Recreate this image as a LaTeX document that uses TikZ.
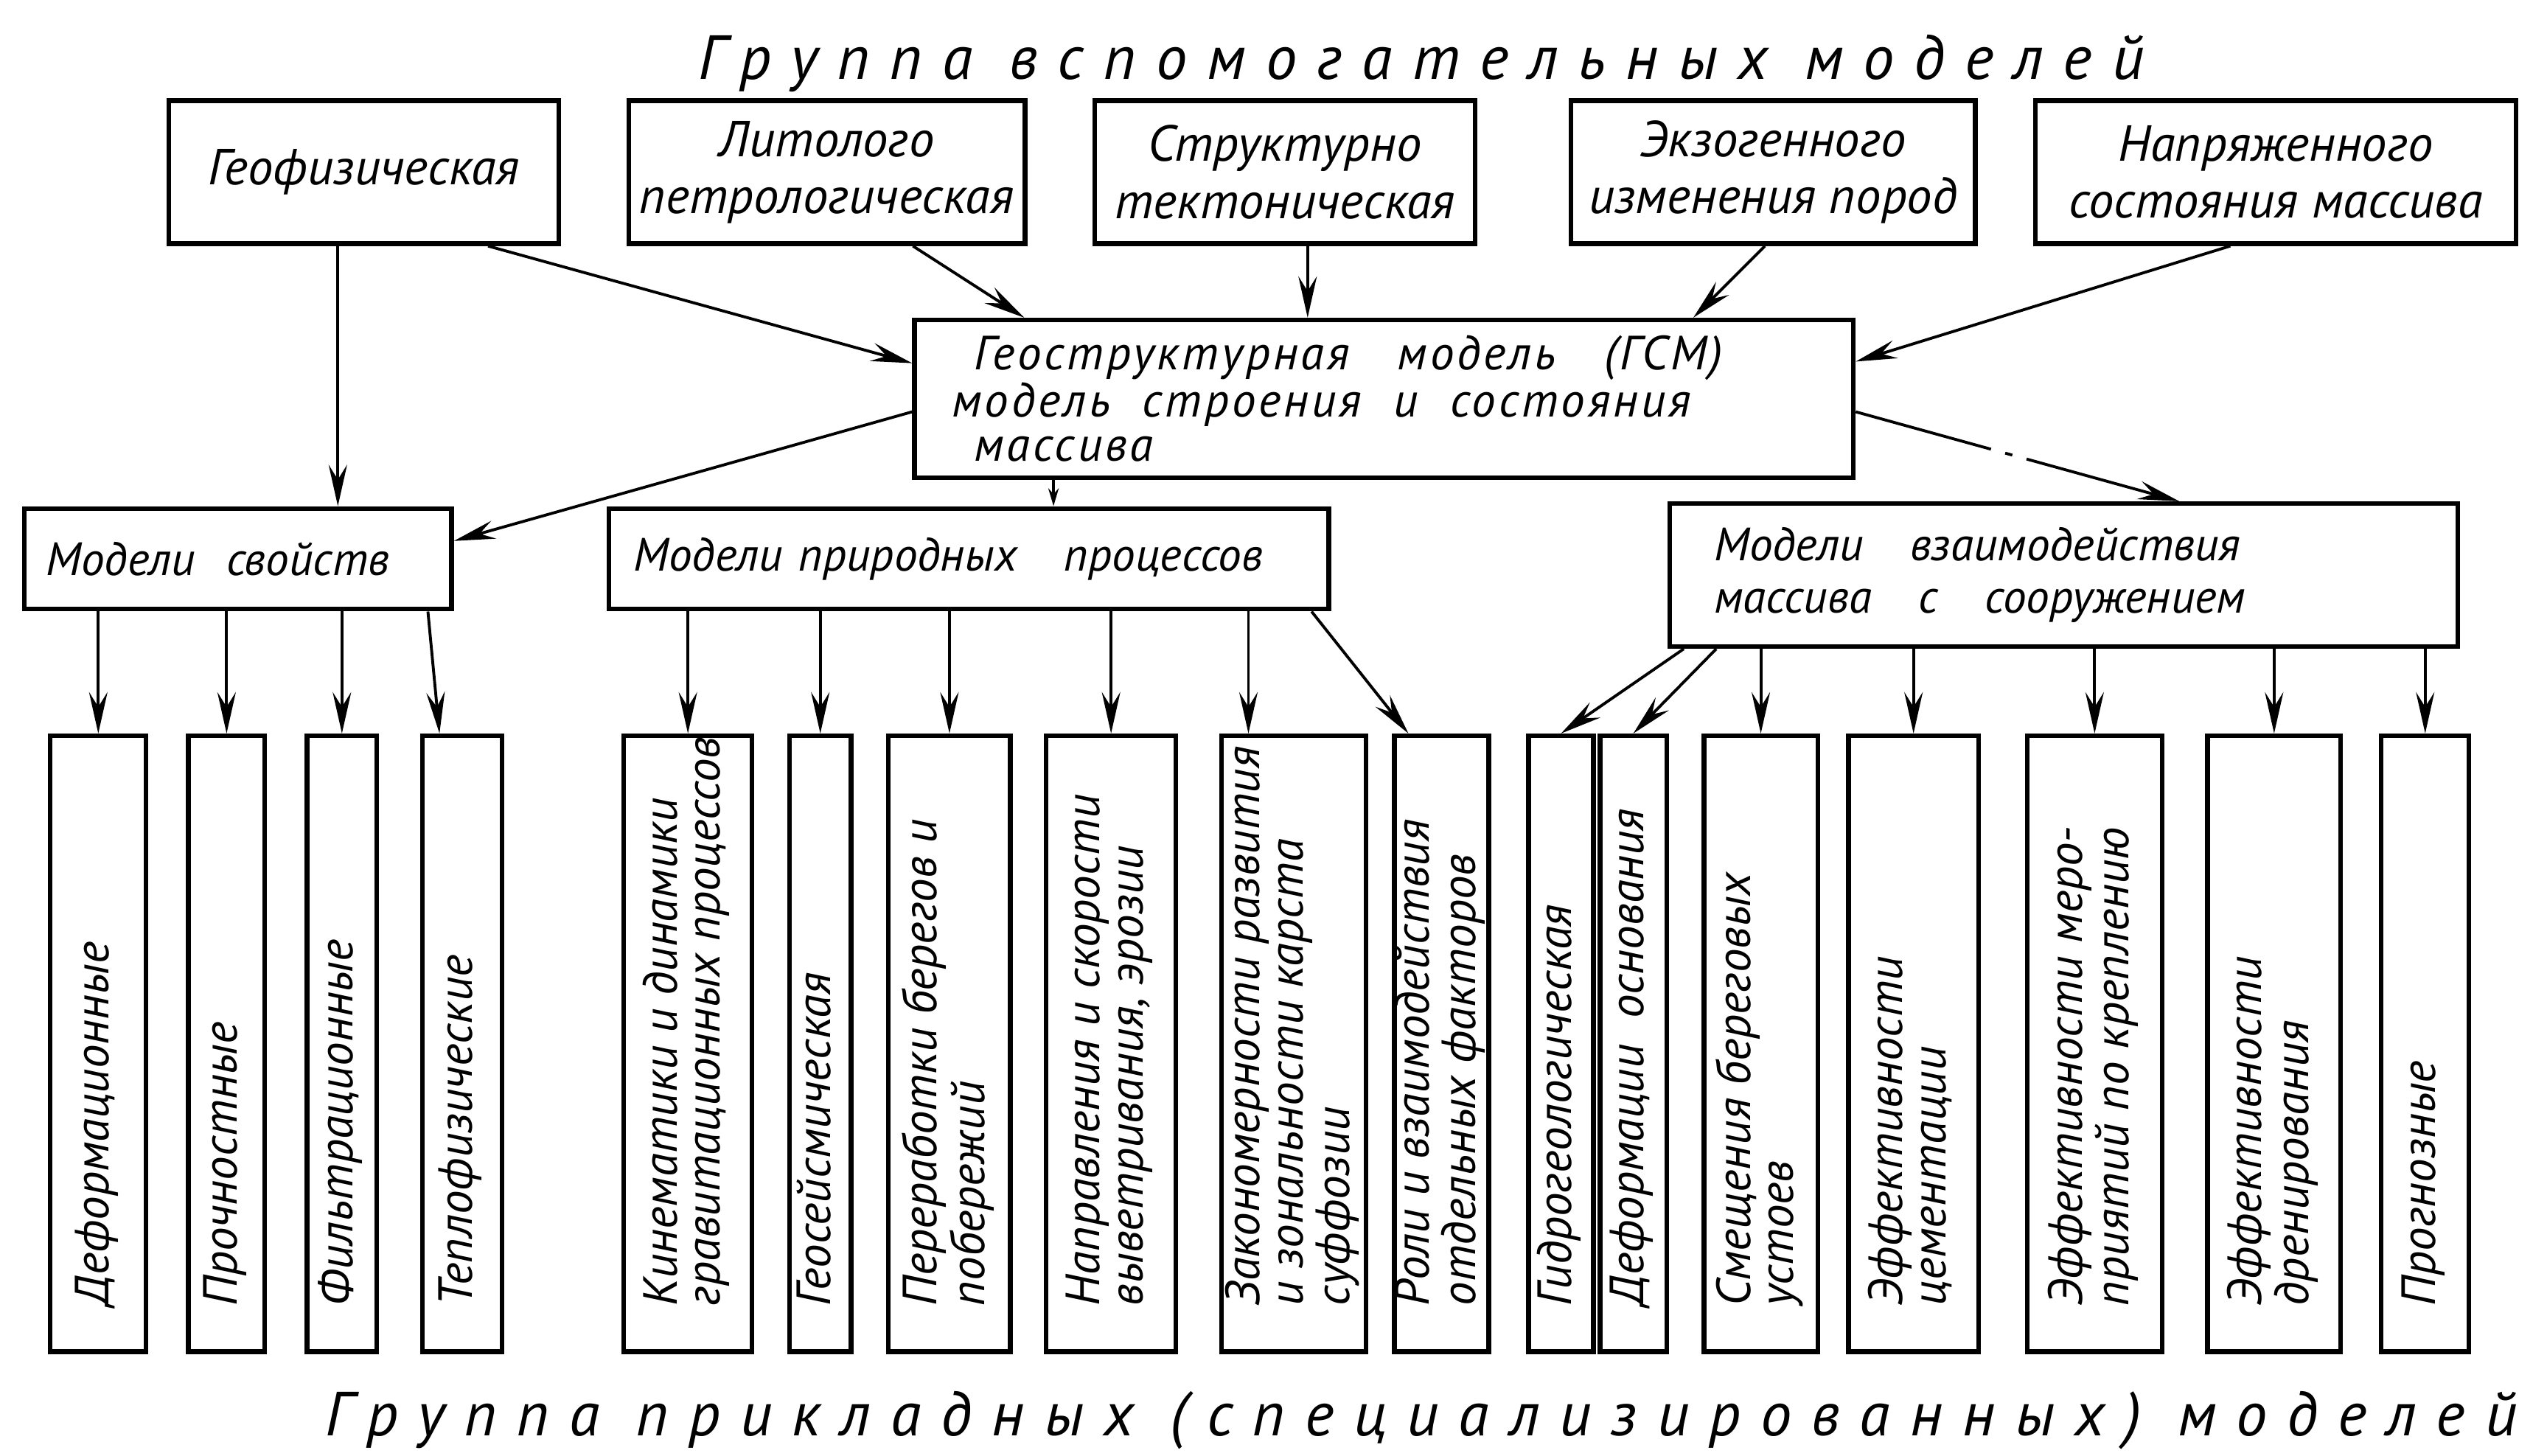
\documentclass[tikz,border=0pt]{standalone}
\usepackage{fontspec}
\setmainfont{PT Sans}
\usepackage{graphicx}
\usepackage{tikz}
\usetikzlibrary{arrows.meta,calc}
\tikzset{
    topbox/.style={
           rectangle,
           draw=black, line width=1.8pt,
           minimum height=19.36mm,
           inner sep=2pt,
           align=center,
           font=\itshape\fontsize{19.5}{22}\selectfont
           },
    midbox/.style={
           rectangle,
           draw=black, line width=1.8pt,
           inner sep=0pt,
           align=left,
           font=\itshape\fontsize{18}{17}\selectfont
           },
    leafbox/.style={
           rectangle,
           draw=black, line width=1.8pt,
           minimum height=83.4mm,
           inner sep=0pt,
           font=\itshape\fontsize{18.5}{17.5}\selectfont
           },
    grouptitle/.style={
           anchor=base,
           font=\itshape\fontsize{24}{28}\selectfont\addfontfeature{LetterSpace=32}
           },
    chain/.style={dash pattern=on 19mm off 2mm on 1mm off 2mm on 40mm},
}
% rotated label of a leaf box, read from bottom to top
\newcommand{\vlabel}[1]{\rotatebox{90}{\makebox[71mm][l]{\renewcommand{\arraystretch}{0.95}\begin{tabular}{@{}l@{}}#1\end{tabular}}}}

\begin{document}
\begin{tikzpicture}[x=0.22mm,y=-0.22mm,>={Stealth[length=5.6mm,width=2.5mm,inset=2mm]},line width=1.1pt]
    \useasboundingbox (0,0) rectangle (1568,896);

    % group titles
    \node[grouptitle] (AUXTITLE) at (875,49) {Группа вспомогательных моделей};
    \node[grouptitle] (APPTITLE) at (875,884) {Группа прикладных (специализированных) моделей};

    % auxiliary models
    \node[topbox, minimum width=52.8mm] (GEO) at (224,106) {Геофизическая};
    \node[topbox, minimum width=53.68mm] (LITO) at (509,106) {Литолого\\петрологическая};
    \node[topbox, minimum width=51.48mm] (STRUCT) at (791,106) {Структурно\\тектоническая};
    \node[topbox, minimum width=54.78mm] (EXO) at (1091.5,106) {Экзогенного\\изменения пород};
    \node[topbox, minimum width=65.12mm] (STRESS) at (1401,106) {Напряженного\\состояния массива};

    % geostructural model
    \node[midbox,
          minimum width=127.16mm, minimum height=21.34mm,
          text width=117mm,
          font=\itshape\fontsize{18.5}{17}\selectfont\addfontfeature{LetterSpace=6}] (GSM) at (852,245.5)
         {\hspace{3mm}Геоструктурная\quad модель\quad (ГСМ)\\модель\ \ строения\ \ и\ \ состояния\\\hspace{3mm}массива};

    \node[midbox,
          minimum width=57.86mm, minimum height=13.64mm,
          text width=52mm] (PROPS) at (146.5,344)
         {Модели\ \ свойств};
    \node[midbox,
          minimum width=97.46mm, minimum height=13.64mm,
          text width=90.8mm] (NATPROC) at (596.5,344)
         {Модели\ природных\quad процессов};
    \node[midbox,
          minimum width=106.7mm, minimum height=19.36mm,
          text width=94.7mm,
          font=\itshape\fontsize{18}{20}\selectfont] (INTER) at (1270.5,354)
         {Модели\quad взаимодействия\\массива\quad с\quad сооружением};

    % applied models
    \node[leafbox, minimum width=12.98mm] (DEFORM) at (60.5,642.5) {\vlabel{Деформационные}};
    \node[leafbox, minimum width=10.34mm] (STRENGTH) at (139.5,642.5) {\vlabel{Прочностные}};
    \node[leafbox, minimum width=9.46mm] (FILTR) at (210.5,642.5) {\vlabel{Фильтрационные}};
    \node[leafbox, minimum width=10.78mm] (THERMO) at (284.5,642.5) {\vlabel{Теплофизические}};
    \node[leafbox, minimum width=17.38mm] (KINEM) at (423.5,642.5) {\vlabel{Кинематики и динамики\\гравитационных процессов}};
    \node[leafbox, minimum width=8.36mm] (SEISM) at (505,642.5) {\vlabel{Геосейсмическая}};
    \node[leafbox, minimum width=16.5mm] (SHORE) at (584.5,642.5) {\vlabel{Переработки берегов и\\побережий}};
    \node[leafbox, minimum width=17.6mm] (WEATHER) at (684,642.5) {\vlabel{Направления и скорости\\выветривания, эрозии}};
    \node[leafbox, minimum width=19.58mm] (KARST) at (796.5,642.5) {\vlabel{Закономерности развития\\и зональности карста\\суффозии}};
    \node[leafbox, minimum width=12.1mm] (FACTORS) at (887.5,642.5) {\vlabel{Роли и взаимодействия\\отдельных факторов}};
    \node[leafbox, minimum width=8.8mm] (HYDRO) at (961,642.5) {\vlabel{Гидрогеологическая}};
    \node[leafbox, minimum width=9.02mm] (BASE) at (1005.5,642.5) {\vlabel{Деформации\ \ основания}};
    \node[leafbox, minimum width=15.4mm] (ABUT) at (1084,642.5) {\vlabel{Смещения береговых\\устоев}};
    \node[leafbox, minimum width=17.6mm] (CEMENT) at (1178,642.5) {\vlabel{Эффективности\\цементации}};
    \node[leafbox, minimum width=18.26mm] (SUPPORT) at (1289.5,642.5) {\vlabel{Эффективности меро-\\приятий по креплению}};
    \node[leafbox, minimum width=18.04mm] (DRAIN) at (1400,642.5) {\vlabel{Эффективности\\дренирования}};
    \node[leafbox, minimum width=11.88mm] (FORECAST) at (1493,642.5) {\vlabel{Прогнозные}};

    % auxiliary models -> GSM
    \draw[->] ($(GEO.south east)+(-45,0)$) -- ($(GSM.north west)+(0,28)$);
    \draw[->] ($(LITO.south)+(53,0)$) -- ($(GSM.north west)+(69,0)$);
    \draw[->] ($(STRUCT.south)+(14,0)$) coordinate (s1) -- (s1 |- GSM.north);
    \draw[->] ($(EXO.south)+(-5,0)$) -- ($(GSM.north east)+(-100,0)$);
    \draw[->] ($(STRESS.south)+(-28,0)$) -- ($(GSM.north east)+(0,27)$);

    % GSM and geophysics -> model groups
    \draw[->] ($(GEO.south)+(-16,0)$) coordinate (g1) -- (g1 |- PROPS.north);
    \draw[->] ($(GSM.west)+(0,8)$) -- ($(PROPS.east)+(0,-11)$);
    \draw[-{Stealth[length=2.4mm,width=1.4mm]}] ($(GSM.south west)+(87,0)$) coordinate (m1) -- (m1 |- NATPROC.north);
    \draw[->,chain] ($(GSM.east)+(0,8)$) -- ($(INTER.north west)+(315,0)$);

    % model groups -> applied models
    \draw[->] (PROPS.south -| DEFORM) -- (DEFORM);
    \draw[->] (PROPS.south -| STRENGTH) -- (STRENGTH);
    \draw[->] (PROPS.south -| FILTR) -- (FILTR);
    \draw[->] ($(PROPS.south east)+(-16,0)$) -- ($(THERMO.north west)+(12,0)$);

    \draw[->] (NATPROC.south -| KINEM) -- (KINEM);
    \draw[->] (NATPROC.south -| SEISM) -- (SEISM);
    \draw[->] (NATPROC.south -| SHORE) -- (SHORE);
    \draw[->] (NATPROC.south -| WEATHER) -- (WEATHER);
    \coordinate (k1) at ($(KARST.north west)+(18,0)$);
    \draw[->] (k1 |- NATPROC.south) -- (k1);
    \draw[->] ($(NATPROC.south east)+(-12,0)$) -- ($(FACTORS.north west)+(10,0)$);

    \draw[->] ($(INTER.south west)+(10,0)$) -- (HYDRO.north);
    \draw[->] ($(INTER.south west)+(30,0)$) -- (BASE.north);
    \draw[->] (INTER.south -| ABUT) -- (ABUT);
    \draw[->] (INTER.south -| CEMENT) -- (CEMENT);
    \draw[->] (INTER.south -| SUPPORT) -- (SUPPORT);
    \draw[->] (INTER.south -| DRAIN) -- (DRAIN);
    \draw[->] (INTER.south -| FORECAST) -- (FORECAST);
\end{tikzpicture}
\end{document}
